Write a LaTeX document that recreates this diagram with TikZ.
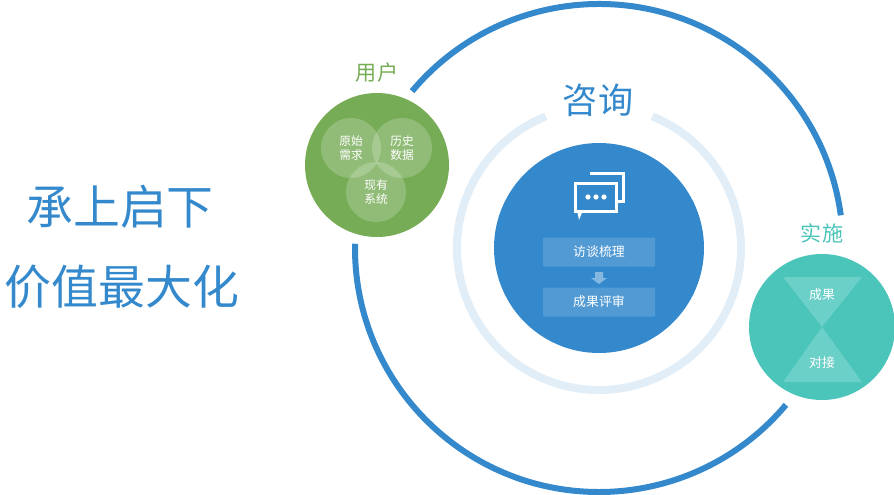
\documentclass[tikz,border=0pt]{standalone}
\usepackage{fontspec}
\setmainfont{Noto Sans CJK SC}
\usetikzlibrary{positioning}
\definecolor{ringblue}{HTML}{3489CD}
\definecolor{paleblue}{HTML}{E1EEF8}
\definecolor{usergreen}{HTML}{76AC55}
\definecolor{teal}{HTML}{4BC4BA}
\definecolor{tealhi}{HTML}{6BD0C7}
\tikzset{
  bubble/.style={circle, fill=white, fill opacity=0.2, minimum size=60*0.03cm, inner sep=0pt,
    text opacity=1, text=white, align=center, font=\fontsize{10}{12}\selectfont},
  stagebox/.style={fill=white, fill opacity=0.15, text opacity=1, text=white, rounded corners=1pt,
    minimum width=112*0.03cm, minimum height=29*0.03cm, font=\fontsize{11}{13}\selectfont},
  bigtxt/.style={text=ringblue, font=\fontsize{40}{46}\selectfont}
}
\begin{document}
\begin{tikzpicture}[x=0.03cm,y=-0.03cm]
\useasboundingbox (0,0) rectangle (894,494);
% outer ring
\draw[ringblue, line width=6*0.03cm] (599,248) ++(-7.7:244) arc[start angle=-7.7, end angle=-140, radius=244];
\draw[ringblue, line width=6*0.03cm] (599,248) ++(-179:244) arc[start angle=-179, end angle=-320, radius=244];
% pale ring
\draw[paleblue, line width=8*0.03cm] (599,248) ++(-68:142) arc[start angle=-68, end angle=248, radius=142];
\node[text=ringblue, font=\fontsize{30}{34}\selectfont] (zixun) at (598,100) {咨询};
% centre
\node[circle, fill=ringblue, minimum size=210*0.03cm] (core) at (599,248) {};
\node[stagebox] (fangtan) at (599,252) {访谈梳理};
\node[stagebox] (pingshen) at (599,302) {成果评审};
\fill[white, opacity=0.4] (595,272) rectangle (603,278) (591,278) -- (607,278) -- (599,284) -- cycle;
% icon
\draw[white, line width=3*0.03cm] (590,173) -- (623,173) -- (623,201) -- (617,201);
\draw[white, line width=3*0.03cm] (575,183) rectangle (616,211);
\fill[white] (577,210) -- (583,210) -- (579,220) -- cycle;
\foreach \x in {588,596,604} \fill[white] (\x,197) circle (2.6);
% user
\node[circle, fill=usergreen, minimum size=144*0.03cm] (user) at (377,165) {};
\node[text=usergreen, font=\fontsize{18}{20}\selectfont] (userlbl) at (377,72) {用户};
\node[bubble] (xuqiu) at (351,148) {原始\\需求};
\node[bubble] (lishi) at (402,148) {历史\\数据};
\node[bubble] (xitong) at (376,192) {现有\\系统};
% implement
\node[circle, fill=teal, minimum size=146*0.03cm] (shishi) at (822,327) {};
\fill[tealhi] (783,277) -- (862,277) -- (822,327) -- cycle;
\fill[tealhi] (783,382) -- (862,382) -- (822,327) -- cycle;
\node[text=white, font=\fontsize{11}{13}\selectfont] (chengguo) at (822,295) {成果};
\node[text=white, font=\fontsize{11}{13}\selectfont] (duijie) at (822,363) {对接};
\node[text=teal, font=\fontsize{18}{20}\selectfont] (shishilbl) at (822,233) {实施};
% left
\node[bigtxt] (line1) at (120,207) {承上启下};
\node[bigtxt] (line2) at (122,287) {价值最大化};
\end{tikzpicture}
\end{document}
